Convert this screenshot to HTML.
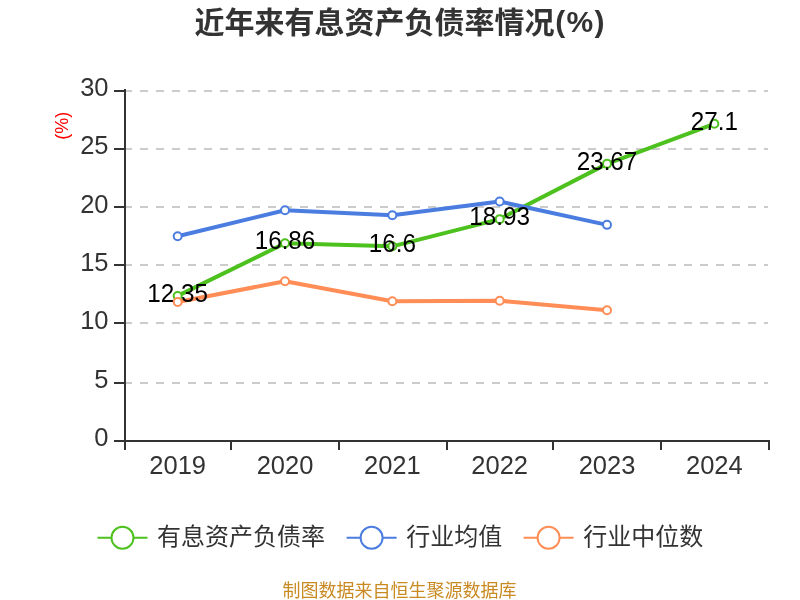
<!DOCTYPE html>
<html lang="zh-CN">
<head>
<meta charset="utf-8">
<title>近年来有息资产负债率情况(%)</title>
<style>
html,body{margin:0;padding:0;background:#fff;}
body{width:800px;height:600px;overflow:hidden;position:relative;}
svg{position:absolute;left:0;top:0;display:block;will-change:transform;}
text{font-family:"Liberation Sans","Noto Sans CJK SC",sans-serif;}
.t{font-size:30px;font-weight:bold;fill:#333;}
.ax{font-size:25.5px;fill:#333;}
.dl{font-size:25.5px;fill:#000;}
.lg{font-size:24px;fill:#333;}
.un{font-size:18px;fill:#ff0000;}
.ft{font-size:18px;fill:#c98a22;}
</style>
</head>
<body>
<svg width="800" height="600" viewBox="0 0 800 600">
<rect x="0" y="0" width="800" height="600" fill="#ffffff"/>
<text class="t" x="194.4" y="33.4">近年来有息资产负债率情况<tspan dx="0.8" dy="-1" letter-spacing="1.3">(%)</tspan></text>
<g stroke="#cccccc" stroke-width="2" stroke-dasharray="8 8" fill="none">
<line x1="124" y1="91" x2="768" y2="91"/>
<line x1="124" y1="149" x2="768" y2="149"/>
<line x1="124" y1="207" x2="768" y2="207"/>
<line x1="124" y1="265" x2="768" y2="265"/>
<line x1="124" y1="323" x2="768" y2="323"/>
<line x1="124" y1="383" x2="768" y2="383"/>
</g>
<g stroke="#333333" stroke-width="2" fill="none" shape-rendering="crispEdges">
<line x1="125" y1="89" x2="125" y2="442"/>
<line x1="124" y1="441" x2="770" y2="441"/>
<line x1="114" y1="91" x2="124" y2="91"/>
<line x1="114" y1="149" x2="124" y2="149"/>
<line x1="114" y1="207" x2="124" y2="207"/>
<line x1="114" y1="265" x2="124" y2="265"/>
<line x1="114" y1="323" x2="124" y2="323"/>
<line x1="114" y1="383" x2="124" y2="383"/>
<line x1="114" y1="441" x2="124" y2="441"/>
<line x1="125" y1="441" x2="125" y2="450"/>
<line x1="231" y1="441" x2="231" y2="450"/>
<line x1="339" y1="441" x2="339" y2="450"/>
<line x1="447" y1="441" x2="447" y2="450"/>
<line x1="553" y1="441" x2="553" y2="450"/>
<line x1="661" y1="441" x2="661" y2="450"/>
<line x1="769" y1="441" x2="769" y2="450"/>
</g>
<g class="ax" text-anchor="end">
<text x="108.5" y="96.00">30</text>
<text x="108.5" y="154.33">25</text>
<text x="108.5" y="212.67">20</text>
<text x="108.5" y="271.00">15</text>
<text x="108.5" y="329.33">10</text>
<text x="108.5" y="387.67">5</text>
<text x="108.5" y="446.00">0</text>
</g>
<g class="ax" text-anchor="middle">
<text x="177.67" y="473.5">2019</text>
<text x="285.00" y="473.5">2020</text>
<text x="392.33" y="473.5">2021</text>
<text x="499.67" y="473.5">2022</text>
<text x="607.00" y="473.5">2023</text>
<text x="714.33" y="473.5">2024</text>
</g>
<text class="un" text-anchor="middle" transform="translate(68.2,125.8) rotate(-90)">(%)</text>
<polyline points="177.67,295.92 285.00,243.30 392.33,246.33 499.67,219.15 607.00,163.85 714.33,123.83" fill="none" stroke="#4dc11d" stroke-width="4" stroke-linejoin="bevel" stroke-linecap="butt"/>
<polyline points="177.67,236.30 285.00,210.28 392.33,215.30 499.67,201.53 607.00,224.87" fill="none" stroke="#4b7de0" stroke-width="4" stroke-linejoin="bevel" stroke-linecap="butt"/>
<polyline points="177.67,301.98 285.00,281.33 392.33,301.28 499.67,300.70 607.00,310.27" fill="none" stroke="#ff8d55" stroke-width="4" stroke-linejoin="bevel" stroke-linecap="butt"/>
<circle cx="177.67" cy="295.92" r="4" fill="#ffffff" stroke="#4dc11d" stroke-width="2"/>
<circle cx="285.00" cy="243.30" r="4" fill="#ffffff" stroke="#4dc11d" stroke-width="2"/>
<circle cx="392.33" cy="246.33" r="4" fill="#ffffff" stroke="#4dc11d" stroke-width="2"/>
<circle cx="499.67" cy="219.15" r="4" fill="#ffffff" stroke="#4dc11d" stroke-width="2"/>
<circle cx="607.00" cy="163.85" r="4" fill="#ffffff" stroke="#4dc11d" stroke-width="2"/>
<circle cx="714.33" cy="123.83" r="4" fill="#ffffff" stroke="#4dc11d" stroke-width="2"/>
<g class="dl" text-anchor="middle">
<text transform="translate(177.67,301.72) scale(0.952,1)">12.35</text>
<text transform="translate(285.00,249.10) scale(0.952,1)">16.86</text>
<text transform="translate(392.33,252.13) scale(0.952,1)">16.6</text>
<text transform="translate(499.67,224.95) scale(0.952,1)">18.93</text>
<text transform="translate(607.00,169.65) scale(0.952,1)">23.67</text>
<text transform="translate(714.33,129.63) scale(0.952,1)">27.1</text>
</g>
<circle cx="177.67" cy="236.30" r="4" fill="#ffffff" stroke="#4b7de0" stroke-width="2"/>
<circle cx="285.00" cy="210.28" r="4" fill="#ffffff" stroke="#4b7de0" stroke-width="2"/>
<circle cx="392.33" cy="215.30" r="4" fill="#ffffff" stroke="#4b7de0" stroke-width="2"/>
<circle cx="499.67" cy="201.53" r="4" fill="#ffffff" stroke="#4b7de0" stroke-width="2"/>
<circle cx="607.00" cy="224.87" r="4" fill="#ffffff" stroke="#4b7de0" stroke-width="2"/>
<circle cx="177.67" cy="301.98" r="4" fill="#ffffff" stroke="#ff8d55" stroke-width="2"/>
<circle cx="285.00" cy="281.33" r="4" fill="#ffffff" stroke="#ff8d55" stroke-width="2"/>
<circle cx="392.33" cy="301.28" r="4" fill="#ffffff" stroke="#ff8d55" stroke-width="2"/>
<circle cx="499.67" cy="300.70" r="4" fill="#ffffff" stroke="#ff8d55" stroke-width="2"/>
<circle cx="607.00" cy="310.27" r="4" fill="#ffffff" stroke="#ff8d55" stroke-width="2"/>
<line x1="97.5" y1="537.75" x2="147.5" y2="537.75" stroke="#4dc11d" stroke-width="2"/>
<circle cx="122.5" cy="537.75" r="11" fill="#ffffff" stroke="#4dc11d" stroke-width="2"/>
<text class="lg" x="157.0" y="544.6">有息资产负债率</text>
<line x1="346.6" y1="537.75" x2="396.6" y2="537.75" stroke="#4b7de0" stroke-width="2"/>
<circle cx="371.6" cy="537.75" r="11" fill="#ffffff" stroke="#4b7de0" stroke-width="2"/>
<text class="lg" x="406.3" y="544.6">行业均值</text>
<line x1="523.6" y1="537.75" x2="573.6" y2="537.75" stroke="#ff8d55" stroke-width="2"/>
<circle cx="548.6" cy="537.75" r="11" fill="#ffffff" stroke="#ff8d55" stroke-width="2"/>
<text class="lg" x="583.2" y="544.6">行业中位数</text>
<text class="ft" x="399.5" y="596.7" text-anchor="middle">制图数据来自恒生聚源数据库</text>
</svg>
</body>
</html>
